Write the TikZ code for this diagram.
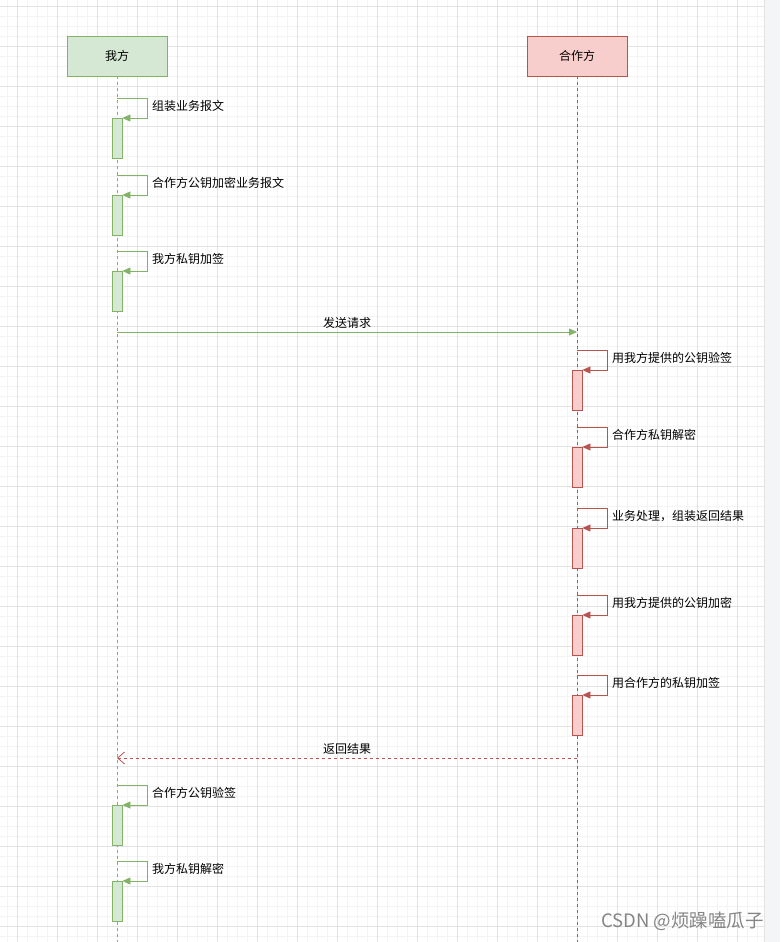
\documentclass[tikz,border=0pt]{standalone}
\usepackage{fontspec}
\newfontfamily\cjk{Noto Sans CJK SC}
\usetikzlibrary{arrows.meta}
\definecolor{gfill}{HTML}{D5E8D4}
\definecolor{gline}{HTML}{82B366}
\definecolor{rfill}{HTML}{F8CECC}
\definecolor{rline}{HTML}{B85450}
\definecolor{gridminor}{HTML}{F4F4F4}
\definecolor{gridmajor}{HTML}{E3E3E3}
\definecolor{strip}{HTML}{F4F5F7}
\tikzset{
  actorG/.style={draw=gline, fill=gfill, line width=0.8pt, minimum width=100pt, minimum height=40pt, inner sep=0pt, font=\cjk\fontsize{12}{14}\selectfont},
  actorR/.style={draw=rline, fill=rfill, line width=0.8pt, minimum width=100pt, minimum height=40pt, inner sep=0pt, font=\cjk\fontsize{12}{14}\selectfont},
  lifeG/.style={draw=gline, line width=0.7pt, dash pattern=on 3pt off 3pt},
  lifeR/.style={draw=rline, line width=0.7pt, dash pattern=on 3pt off 3pt},
  actboxG/.style={draw=gline, fill=gfill, line width=0.8pt, minimum width=10pt, minimum height=40pt, inner sep=0pt, anchor=north},
  actboxR/.style={draw=rline, fill=rfill, line width=0.8pt, minimum width=10pt, minimum height=40pt, inner sep=0pt, anchor=north},
  msgG/.style={draw=gline, line width=0.8pt, -{Triangle[length=8pt,width=7pt]}},
  msgR/.style={draw=rline, line width=0.8pt, -{Triangle[length=8pt,width=7pt]}},
  retR/.style={draw=rline, line width=0.8pt, dash pattern=on 3pt off 3pt, -{Straight Barb[length=7pt,width=12pt]}},
  lbl/.style={font=\cjk\fontsize{12}{14}\selectfont, inner sep=0pt, anchor=west, text=black},
}
\begin{document}
\begin{tikzpicture}[x=1pt,y=-1pt]
\useasboundingbox (0,0) rectangle (780,942);
\fill[white] (0,0) rectangle (780,942);
% grid
\foreach \x in {7,17,...,757} \draw[gridminor, line width=0.8pt] (\x,0) -- (\x,942);
\foreach \y in {6,16,...,936} \draw[gridminor, line width=0.8pt] (0,\y) -- (764,\y);
\foreach \x in {17,57,...,737} \draw[gridmajor, line width=0.8pt] (\x,0) -- (\x,942);
\foreach \y in {6,46,...,926} \draw[gridmajor, line width=0.8pt] (0,\y) -- (764,\y);
\fill[strip] (764,0) rectangle (780,942);
\draw[gridmajor, line width=1pt] (764.5,0) -- (764.5,942);

% actors
\node[actorG] (A) at (117,56) {我方};
\node[actorR] (B) at (577,56) {合作方};
\coordinate (Aend) at (117,942);
\coordinate (Bend) at (577,942);
\draw[lifeG] (A.south) -- (Aend);
\draw[lifeR] (B.south) -- (Bend);

% our side self messages
\foreach \t/\lbltext [count=\i] in {98/组装业务报文, 175/合作方公钥加密业务报文, 251/我方私钥加签, 785/合作方公钥验签, 861/我方私钥解密} {
  \coordinate (as\i) at (117,\t);
  \node[actboxG] (ab\i) at (117,\t+20) {};
  \draw[msgG] (as\i) -- ++(30,0) |- (ab\i.north east);
  \node[lbl] (al\i) at (152,\t+8) {\lbltext};
}

% partner self messages
\foreach \t/\lbltext [count=\i] in {350/用我方提供的公钥验签, 427/合作方私钥解密, 508/业务处理，组装返回结果, 595/用我方提供的公钥加密, 675/用合作方的私钥加签} {
  \coordinate (bs\i) at (577,\t);
  \node[actboxR] (bb\i) at (577,\t+20) {};
  \draw[msgR] (bs\i) -- ++(30,0) |- (bb\i.north east);
  \node[lbl] (bl\i) at (612,\t+8) {\lbltext};
}

% request
\coordinate (req1) at (117,332);
\coordinate (req2) at (577,332);
\draw[msgG] (req1) -- node[lbl, anchor=center, yshift=9.5pt] (reqlbl) {发送请求} (req2);

% response
\coordinate (ret1) at (577,758);
\coordinate (ret2) at (117,758);
\draw[retR] (ret1) -- node[lbl, anchor=center, yshift=9.5pt] (retlbl) {返回结果} (ret2);

% watermark
\node[font=\cjk\fontsize{18.5}{22}\selectfont, text=black!48, anchor=east, inner sep=0pt] (wm) at (764,921.5) {CSDN @烦躁嗑瓜子};
\end{tikzpicture}
\end{document}
